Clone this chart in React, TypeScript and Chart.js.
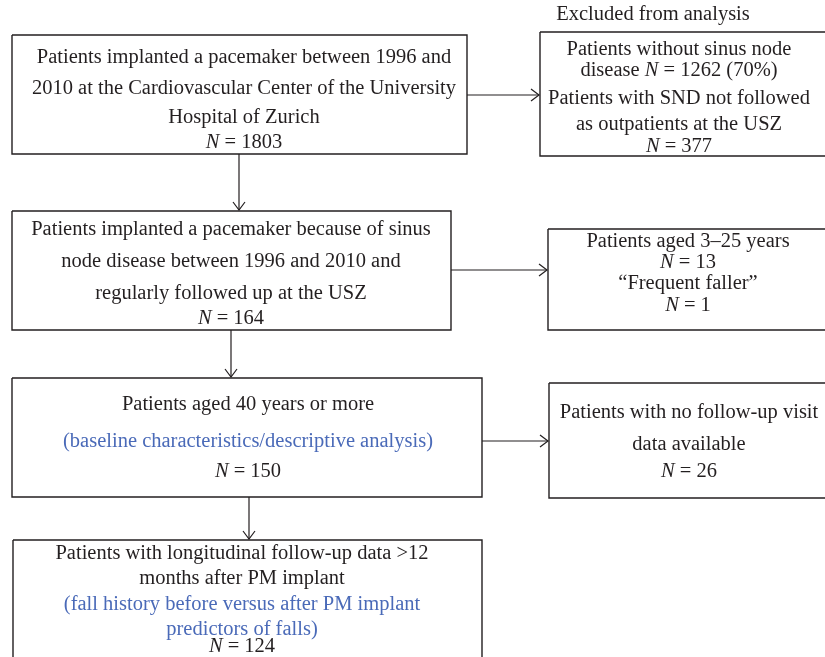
import React, { useEffect, useRef } from "react";
import { Chart, registerables } from "chart.js";

Chart.register(...registerables);

// ---- data ----
const counts = [1803, 1262, 377, 164, 13, 1, 150, 26, 124];
const excludedHeader = "Excluded from analysis";

// "_N_" marks italic text, a leading "~" marks a blue (analysis) line
const nodeLines: string[][] = [
  [
    "Patients implanted a pacemaker between 1996 and",
    "2010 at the Cardiovascular Center of the University",
    "Hospital of Zurich",
    `_N_ = ${counts[0]}`,
  ],
  [
    "Patients without sinus node",
    `disease _N_ = ${counts[1]} (70%)`,
    "Patients with SND not followed",
    "as outpatients at the USZ",
    `_N_ = ${counts[2]}`,
  ],
  [
    "Patients implanted a pacemaker because of sinus",
    "node disease between 1996 and 2010 and",
    "regularly followed up at the USZ",
    `_N_ = ${counts[3]}`,
  ],
  [
    "Patients aged 3\u201325 years",
    `_N_ = ${counts[4]}`,
    "\u201cFrequent faller\u201d",
    `_N_ = ${counts[5]}`,
  ],
  [
    "Patients aged 40 years or more",
    "~(baseline characteristics/descriptive analysis)",
    `_N_ = ${counts[6]}`,
  ],
  [
    "Patients with no follow-up visit",
    "data available",
    `_N_ = ${counts[7]}`,
  ],
  [
    "Patients with longitudinal follow-up data >12",
    "months after PM implant",
    "~(fall history before versus after PM implant",
    "~predictors of falls)",
    `_N_ = ${counts[8]}`,
  ],
];

// box geometry in chart units (x: 0..825, y: 0..657 top-down)
const boxLeft = [12, 540, 12, 548, 12, 549, 13];
const boxRight = [467, 835, 451, 835, 482, 835, 482];
const boxTop = [35, 32, 211, 229, 378, 383, 540];
const boxBottom = [154, 156, 330, 330, 497, 498, 680];

// text placement in chart units
const textCenter = [244, 679, 231, 688, 248, 689, 242];
const lineBaselines: number[][] = [
  [63, 94, 123, 148],
  [55, 76, 104, 130, 152],
  [235, 267, 299, 324],
  [247, 268, 289, 311],
  [410, 447, 477],
  [418, 450, 477],
  [559, 584, 610, 635, 652],
];
const headerPos = { x: 653, y: 20 };

// arrows: from node -> to node, at given y (horizontal) or x (vertical)
const arrowFrom = [0, 0, 2, 2, 4, 4];
const arrowTo = [1, 2, 3, 4, 5, 6];
const arrowAt = [95, 239, 270, 231, 441, 249];

// ---- styles ----
const INK = "#231f20";
const BLUE = "#4a6ab8";
const FONT_SIZE = 20.5;
const FONT_FAMILY = '"Liberation Serif", "Times New Roman", serif';
const HEAD_LEN = 8;
const HEAD_HALF = 6;

function arrowGeometry(i: number) {
  const f = arrowFrom[i];
  const t = arrowTo[i];
  const horizontal = boxLeft[t] > boxRight[f];
  if (horizontal) {
    const y = arrowAt[i];
    const x0 = boxRight[f];
    const x1 = boxLeft[t] - 1;
    return {
      shaft: [
        { x: x0, y },
        { x: x1, y },
      ],
      head: [
        { x: x1 - HEAD_LEN, y: y - HEAD_HALF },
        { x: x1, y },
        { x: x1 - HEAD_LEN, y: y + HEAD_HALF },
      ],
    };
  }
  const x = arrowAt[i];
  const y0 = boxBottom[f];
  const y1 = boxTop[t] - 1;
  return {
    shaft: [
      { x, y: y0 },
      { x, y: y1 },
    ],
    head: [
      { x: x - HEAD_HALF, y: y1 - HEAD_LEN },
      { x, y: y1 },
      { x: x + HEAD_HALF, y: y1 - HEAD_LEN },
    ],
  };
}

function parseLine(s: string) {
  let blue = false;
  if (s.startsWith("~")) {
    blue = true;
    s = s.slice(1);
  }
  const parts = s.split("_");
  const segs = parts
    .map((p, i) => ({ text: p, italic: i % 2 === 1 }))
    .filter((p) => p.text.length > 0);
  return { blue, segs };
}

const textPlugin = {
  id: "flowText",
  afterDatasetsDraw(chart: any) {
    const ctx = chart.ctx as CanvasRenderingContext2D;
    const xs = chart.scales.x;
    const ys = chart.scales.y;
    ctx.save();
    ctx.textBaseline = "alphabetic";
    ctx.textAlign = "left";
    const reg = `${FONT_SIZE}px ${FONT_FAMILY}`;
    const ita = `italic ${FONT_SIZE}px ${FONT_FAMILY}`;

    const drawLine = (line: string, cx: number, by: number) => {
      const { blue, segs } = parseLine(line);
      let total = 0;
      const widths = segs.map((sg) => {
        ctx.font = sg.italic ? ita : reg;
        const w = ctx.measureText(sg.text).width;
        total += w;
        return w;
      });
      let x = xs.getPixelForValue(cx) - total / 2;
      const y = ys.getPixelForValue(by);
      ctx.fillStyle = blue ? BLUE : INK;
      segs.forEach((sg, k) => {
        ctx.font = sg.italic ? ita : reg;
        ctx.fillText(sg.text, x, y);
        x += widths[k];
      });
    };

    nodeLines.forEach((lines, n) => {
      lines.forEach((ln, j) => drawLine(ln, textCenter[n], lineBaselines[n][j]));
    });
    drawLine(excludedHeader, headerPos.x, headerPos.y);
    ctx.restore();
  },
};

export default function App() {
  const ref = useRef<HTMLCanvasElement | null>(null);

  useEffect(() => {
    document.body.style.margin = "0";
    const canvas = ref.current;
    if (!canvas) return;

    const datasets: any[] = [];
    boxLeft.forEach((_, i) => {
      datasets.push({
        data: [
          { x: boxLeft[i], y: boxTop[i] },
          { x: boxRight[i], y: boxTop[i] },
          { x: boxRight[i], y: boxBottom[i] },
          { x: boxLeft[i], y: boxBottom[i] },
          { x: boxLeft[i], y: boxTop[i] },
        ],
        showLine: true,
        borderColor: INK,
        borderWidth: 1.4,
        borderJoinStyle: "miter",
        pointRadius: 0,
        fill: false,
        tension: 0,
        clip: false,
      });
    });
    arrowFrom.forEach((_, i) => {
      const g = arrowGeometry(i);
      [g.shaft, g.head].forEach((pts) =>
        datasets.push({
          data: pts,
          showLine: true,
          borderColor: INK,
          borderWidth: 1.2,
          borderJoinStyle: "miter",
          pointRadius: 0,
          fill: false,
          tension: 0,
          clip: false,
        })
      );
    });

    const chart = new Chart(canvas, {
      type: "scatter",
      data: { datasets },
      options: {
        animation: false,
        responsive: false,
        maintainAspectRatio: false,
        devicePixelRatio: 1,
        layout: { padding: 0 },
        events: [],
        plugins: {
          legend: { display: false },
          tooltip: { enabled: false },
          title: { display: false },
        },
        scales: {
          x: { type: "linear", min: 0, max: 825, display: false },
          y: { type: "linear", min: 0, max: 657, reverse: true, display: false },
        },
      },
      plugins: [textPlugin],
    });
    return () => chart.destroy();
  }, []);

  return (
    <div style={{ position: "absolute", left: 0, top: 0, width: 825, height: 657, background: "#fff" }}>
      <canvas ref={ref} width={825} height={657} style={{ display: "block" }} />
    </div>
  );
}
